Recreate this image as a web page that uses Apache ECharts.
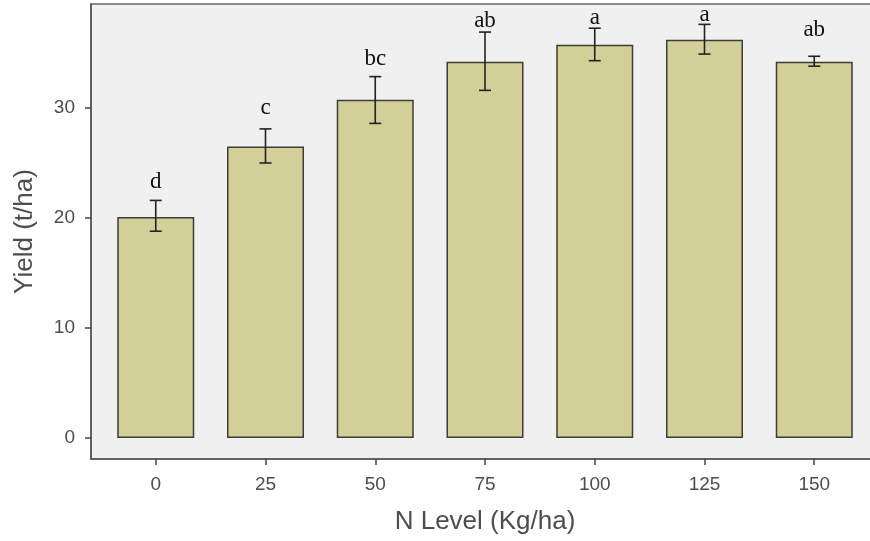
<!DOCTYPE html>
<html><head><meta charset="utf-8">
<script src="https://cdn.jsdelivr.net/npm/echarts@6/dist/echarts.min.js"></script>
<style>html,body{margin:0;padding:0;background:#fff;overflow:hidden;width:870px;height:541px}#c{width:880px;height:541px}</style>
</head><body><div id="c"></div>
<script>
const categories = ['0','25','50','75','100','125','150'];
const yieldMean = [20.1, 26.5, 30.75, 34.2, 35.75, 36.2, 34.2];
const errLow = [18.8, 25.0, 28.6, 31.6, 34.3, 34.9, 33.8];
const errHigh = [21.6, 28.1, 32.85, 36.9, 37.25, 37.6, 34.7];
const letters = ['d','c','bc','ab','a','a','ab'];
const letterY = [23.3, 30.0, 34.5, 37.9, 38.2, 38.5, 37.1];
const yTicks = [0, 10, 20, 30];

const chart = echarts.init(document.getElementById('c'), null, {renderer:'canvas', width: 880, height: 541});
const idx = categories.map((_, i) => i);
chart.setOption({
  animation: false,
  grid: {left: 91, top: 4, width: 788, height: 455, show: true, backgroundColor: '#F0F0F0', borderColor: '#666', borderWidth: 1.5},
  xAxis: {
    type: 'value', min: -0.59, max: 6.59,
    name: 'N Level (Kg/ha)', nameLocation: 'middle', nameGap: 50,
    nameTextStyle: {fontFamily: 'Liberation Sans', fontSize: 26, color: '#4D4D4D'},
    splitLine: {show: false},
    axisLine: {show: true, onZero: false, lineStyle: {color: '#555', width: 1.5}},
    axisTick: {show: true, length: 6, customValues: idx, lineStyle: {color: '#444', width: 1.5}},
    axisLabel: {customValues: idx, margin: 16, fontFamily: 'Liberation Sans', fontSize: 19, color: '#4D4D4D',
      formatter: v => categories[Math.round(v)]}
  },
  yAxis: {
    type: 'value', min: -1.9, max: 39.45,
    name: 'Yield (t/ha)', nameLocation: 'middle', nameGap: 53, nameRotate: 90,
    nameTextStyle: {fontFamily: 'Liberation Sans', fontSize: 26, color: '#4D4D4D'},
    splitLine: {show: false},
    axisLine: {show: true, onZero: false, lineStyle: {color: '#555', width: 1.5}},
    axisTick: {show: true, length: 6, customValues: yTicks, lineStyle: {color: '#444', width: 1.5}},
    axisLabel: {customValues: yTicks, margin: 16, fontFamily: 'Liberation Sans', fontSize: 19, color: '#4D4D4D'}
  },
  series: [
    {
      type: 'bar', barWidth: 77,
      data: yieldMean.map((v, i) => [i, v]),
      itemStyle: {color: '#D3CF98', borderColor: '#3d3d33', borderWidth: 1.5}
    },
    {
      type: 'custom',
      data: idx.map(i => [i, errLow[i], errHigh[i]]),
      renderItem: (params, api) => {
        const lo = api.coord([api.value(0), api.value(1)]);
        const hi = api.coord([api.value(0), api.value(2)]);
        const hw = 6;
        const st = {stroke: '#222', lineWidth: 1.6};
        return {type: 'group', children: [
          {type: 'line', shape: {x1: lo[0], y1: lo[1], x2: hi[0], y2: hi[1]}, style: st},
          {type: 'line', shape: {x1: lo[0]-hw, y1: lo[1], x2: lo[0]+hw, y2: lo[1]}, style: st},
          {type: 'line', shape: {x1: hi[0]-hw, y1: hi[1], x2: hi[0]+hw, y2: hi[1]}, style: st}
        ]};
      },
      z: 5
    },
    {
      type: 'custom',
      data: idx.map(i => [i, letterY[i], letters[i]]),
      renderItem: (params, api) => {
        const p = api.coord([api.value(0), api.value(1)]);
        return {type: 'text', x: p[0], y: p[1], style: {
          text: letters[params.dataIndex], fill: '#111', font: '23px "Liberation Serif"',
          align: 'center', verticalAlign: 'middle'}};
      },
      z: 6
    }
  ]
});
</script></body></html>
